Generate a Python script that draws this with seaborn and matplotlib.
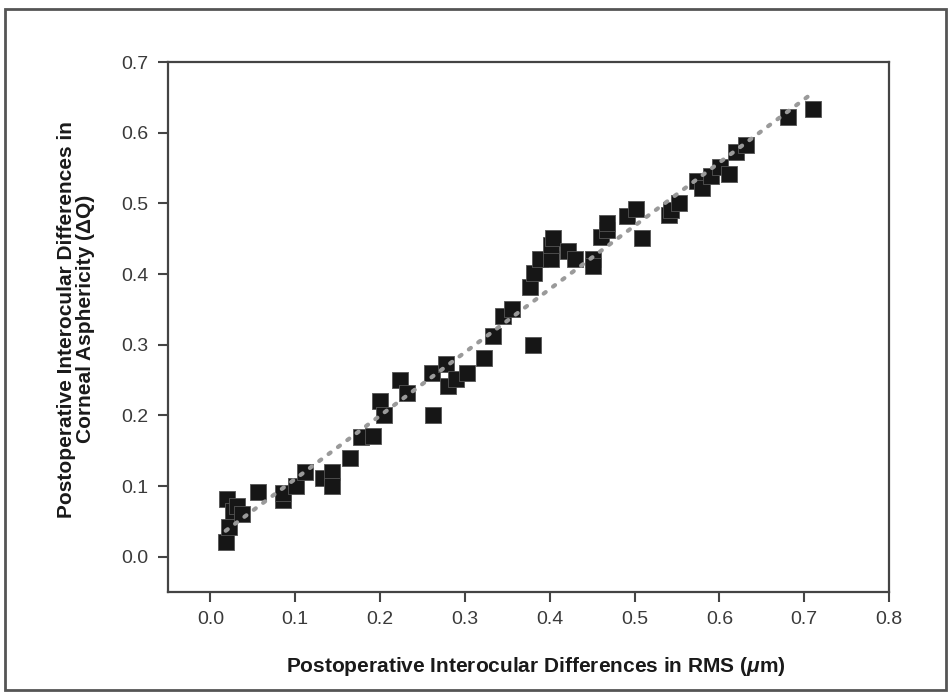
import numpy as np
import pandas as pd
import matplotlib.pyplot as plt
import matplotlib.patches as patches
import seaborn as sns

# ================= DATA =================
rms_diff = [0.018, 0.019, 0.022, 0.027, 0.031, 0.037, 0.056, 0.086, 0.086, 0.101,
            0.111, 0.133, 0.143, 0.143, 0.164, 0.178, 0.192, 0.200, 0.204, 0.224,
            0.232, 0.261, 0.262, 0.278, 0.280, 0.290, 0.302, 0.322, 0.333, 0.345,
            0.355, 0.377, 0.380, 0.381, 0.389, 0.401, 0.402, 0.404, 0.421, 0.430,
            0.451, 0.451, 0.460, 0.467, 0.468, 0.491, 0.502, 0.509, 0.540, 0.543,
            0.552, 0.573, 0.580, 0.590, 0.601, 0.611, 0.620, 0.631, 0.681, 0.710]
q_diff = [0.021, 0.081, 0.042, 0.064, 0.072, 0.060, 0.091, 0.080, 0.090, 0.100,
          0.120, 0.111, 0.120, 0.100, 0.140, 0.170, 0.171, 0.221, 0.200, 0.250,
          0.231, 0.260, 0.200, 0.272, 0.241, 0.252, 0.260, 0.281, 0.312, 0.341,
          0.351, 0.382, 0.300, 0.401, 0.421, 0.421, 0.441, 0.451, 0.432, 0.421,
          0.421, 0.411, 0.452, 0.462, 0.472, 0.482, 0.492, 0.451, 0.483, 0.491,
          0.501, 0.532, 0.522, 0.539, 0.552, 0.542, 0.572, 0.582, 0.622, 0.633]
x_ticks = [0.0, 0.1, 0.2, 0.3, 0.4, 0.5, 0.6, 0.7, 0.8]
y_ticks = [0.0, 0.1, 0.2, 0.3, 0.4, 0.5, 0.6, 0.7]

df = pd.DataFrame({"rms": rms_diff, "dq": q_diff})

# ================= STYLE =================
sns.set_style("ticks")
plt.rcParams["font.family"] = ["Liberation Sans", "DejaVu Sans"]
plt.rcParams["mathtext.fontset"] = "custom"
plt.rcParams["mathtext.it"] = "Liberation Sans:italic:bold"
plt.rcParams["mathtext.rm"] = "Liberation Sans:bold"

fig = plt.figure(figsize=(9.51, 6.97), dpi=100)
ax = fig.add_axes([0.1767, 0.1506, 0.7582, 0.7604])

sns.regplot(data=df, x="rms", y="dq", ax=ax, ci=None,
            marker="s",
            scatter_kws={"s": 125, "color": "#161616", "edgecolors": "#555555",
                         "linewidths": 0.6, "alpha": 1},
            line_kws={"color": "#9a9a9a", "linewidth": 3,
                      "linestyle": (0, (0.6, 2.2)), "dash_capstyle": "round"})

ax.set_xlim(-0.05, 0.8)
ax.set_ylim(-0.05, 0.7)
ax.set_xticks(x_ticks)
ax.set_yticks(y_ticks)
ax.set_xticklabels([f"{t:.1f}" for t in x_ticks])
ax.set_yticklabels([f"{t:.1f}" for t in y_ticks])
ax.tick_params(direction="out", length=7, width=1.5, color="#444444",
               labelsize=14, labelcolor="#3a3a3a", pad=7)

for s in ax.spines.values():
    s.set_visible(True)
    s.set_color("#444444")
    s.set_linewidth(1.6)

ax.set_xlabel(r"Postoperative Interocular Differences in RMS ($\mathit{\mu}$m)",
              fontsize=15, fontweight="bold", color="#1a1a1a")
ax.set_ylabel("Postoperative Interocular Differences in\nCorneal Asphericity (\u0394Q)",
              fontsize=15, fontweight="bold", color="#1a1a1a", linespacing=1.0)
ax.xaxis.set_label_coords(0.51, -0.119)
ax.yaxis.set_label_coords(-0.101, 0.515)

# outer frame around the figure
fig.patches.append(patches.Rectangle((0.005, 0.01), 0.99, 0.977, transform=fig.transFigure,
                                     fill=False, edgecolor="#555555", linewidth=2))

plt.savefig("out.png", dpi=100)
